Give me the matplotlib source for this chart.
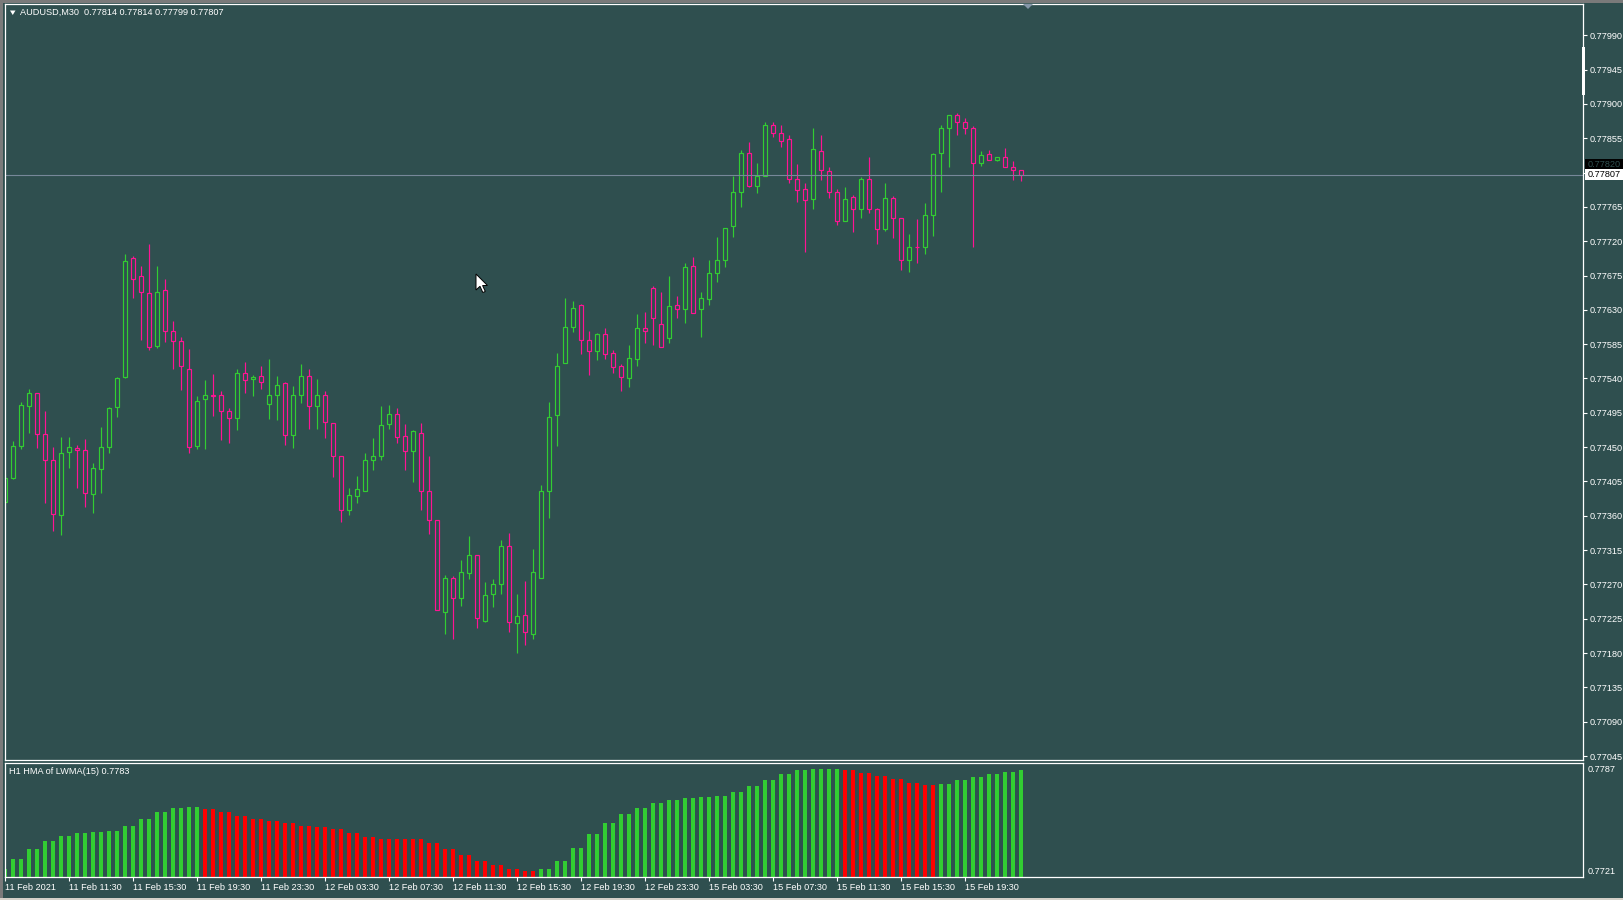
import matplotlib
matplotlib.use("Agg")
import matplotlib.pyplot as plt
import numpy as np
from matplotlib.patches import Rectangle, Polygon
from matplotlib.collections import LineCollection
from matplotlib.transforms import blended_transform_factory

# ---------------- data ----------------
symbol = "AUDUSD,M30"
opens = [0.77378, 0.77410, 0.77452, 0.77504, 0.77521, 0.77467, 0.77433, 0.77361, 0.77443, 0.77449,
         0.77446, 0.77388, 0.77421, 0.77450, 0.77502, 0.77542, 0.77698, 0.77674, 0.77652, 0.77583,
         0.77656, 0.77602, 0.77589, 0.77553, 0.77451, 0.77513, 0.77518, 0.77518, 0.77497, 0.77488,
         0.77547, 0.77539, 0.77543, 0.77506, 0.77519, 0.77534, 0.77466, 0.77519, 0.77543, 0.77504,
         0.77518, 0.77481, 0.77438, 0.77367, 0.77386, 0.77393, 0.77433, 0.77438, 0.77480, 0.77494,
         0.77464, 0.77445, 0.77469, 0.77392, 0.77355, 0.77234, 0.77278, 0.77252, 0.77285, 0.77309,
         0.77222, 0.77257, 0.77270, 0.77321, 0.77219, 0.77230, 0.77205, 0.77279, 0.77393, 0.77492,
         0.77560, 0.77608, 0.77636, 0.77590, 0.77576, 0.77598, 0.77574, 0.77556, 0.77540, 0.77565,
         0.77606, 0.77658, 0.77611, 0.77593, 0.77636, 0.77631, 0.77688, 0.77631, 0.77644, 0.77678,
         0.77696, 0.77740, 0.77784, 0.77835, 0.77792, 0.77806, 0.77872, 0.77862, 0.77854, 0.77802,
         0.77788, 0.77775, 0.77838, 0.77812, 0.77785, 0.77747, 0.77778, 0.77762, 0.77802, 0.77762,
         0.77736, 0.77776, 0.77750, 0.77695, 0.77713, 0.77712, 0.77754, 0.77835, 0.77868, 0.77885,
         0.77876, 0.77868, 0.77822, 0.77834, 0.77826, 0.77830, 0.77817, 0.77814]
highs = [0.77415, 0.77458, 0.77509, 0.77526, 0.77521, 0.77497, 0.77450, 0.77463, 0.77463, 0.77453,
         0.77461, 0.77429, 0.77476, 0.77503, 0.77542, 0.77703, 0.77701, 0.77688, 0.77716, 0.77688,
         0.77670, 0.77615, 0.77595, 0.77579, 0.77517, 0.77538, 0.77546, 0.77523, 0.77501, 0.77553,
         0.77561, 0.77544, 0.77557, 0.77566, 0.77543, 0.77535, 0.77530, 0.77559, 0.77552, 0.77539,
         0.77523, 0.77481, 0.77439, 0.77397, 0.77412, 0.77442, 0.77462, 0.77504, 0.77505, 0.77501,
         0.77480, 0.77473, 0.77482, 0.77438, 0.77355, 0.77283, 0.77281, 0.77302, 0.77334, 0.77309,
         0.77273, 0.77277, 0.77328, 0.77337, 0.77258, 0.77275, 0.77317, 0.77400, 0.77509, 0.77573,
         0.77646, 0.77641, 0.77638, 0.77602, 0.77599, 0.77606, 0.77577, 0.77559, 0.77584, 0.77624,
         0.77627, 0.77661, 0.77654, 0.77675, 0.77648, 0.77691, 0.77699, 0.77653, 0.77696, 0.77726,
         0.77737, 0.77806, 0.77839, 0.77850, 0.77823, 0.77876, 0.77876, 0.77872, 0.77859, 0.77821,
         0.77796, 0.77868, 0.77859, 0.77817, 0.77788, 0.77791, 0.77781, 0.77804, 0.77830, 0.77763,
         0.77796, 0.77779, 0.77751, 0.77729, 0.77749, 0.77770, 0.77836, 0.77872, 0.77886, 0.77888,
         0.77882, 0.77871, 0.77838, 0.77839, 0.77831, 0.77842, 0.77825, 0.77814]
lows = [0.77378, 0.77408, 0.77447, 0.77469, 0.77449, 0.77377, 0.77340, 0.77335, 0.77422, 0.77396,
        0.77371, 0.77364, 0.77390, 0.77442, 0.77490, 0.77540, 0.77645, 0.77590, 0.77578, 0.77580,
        0.77588, 0.77552, 0.77525, 0.77442, 0.77447, 0.77448, 0.77491, 0.77459, 0.77456, 0.77472,
        0.77521, 0.77517, 0.77526, 0.77487, 0.77485, 0.77453, 0.77449, 0.77508, 0.77474, 0.77474,
        0.77462, 0.77411, 0.77352, 0.77361, 0.77377, 0.77393, 0.77420, 0.77433, 0.77474, 0.77456,
        0.77420, 0.77404, 0.77367, 0.77336, 0.77237, 0.77205, 0.77198, 0.77242, 0.77277, 0.77213,
        0.77221, 0.77240, 0.77258, 0.77207, 0.77180, 0.77190, 0.77198, 0.77279, 0.77357, 0.77451,
        0.77560, 0.77601, 0.77572, 0.77545, 0.77564, 0.77566, 0.77547, 0.77524, 0.77529, 0.77556,
        0.77587, 0.77584, 0.77581, 0.77587, 0.77619, 0.77613, 0.77626, 0.77594, 0.77636, 0.77666,
        0.77686, 0.77726, 0.77765, 0.77791, 0.77783, 0.77806, 0.77856, 0.77844, 0.77796, 0.77771,
        0.77706, 0.77762, 0.77800, 0.77776, 0.77741, 0.77746, 0.77732, 0.77750, 0.77757, 0.77716,
        0.77734, 0.77724, 0.77682, 0.77679, 0.77692, 0.77703, 0.77727, 0.77784, 0.77817, 0.77859,
        0.77860, 0.77712, 0.77818, 0.77826, 0.77825, 0.77817, 0.77800, 0.77799]
closes = [0.77409, 0.77451, 0.77505, 0.77521, 0.77467, 0.77433, 0.77362, 0.77442, 0.77450, 0.77446,
          0.77390, 0.77422, 0.77450, 0.77501, 0.77540, 0.77694, 0.77670, 0.77653, 0.77581, 0.77653,
          0.77602, 0.77589, 0.77556, 0.77450, 0.77511, 0.77519, 0.77517, 0.77498, 0.77488, 0.77547,
          0.77538, 0.77542, 0.77535, 0.77519, 0.77532, 0.77466, 0.77518, 0.77543, 0.77504, 0.77518,
          0.77483, 0.77439, 0.77367, 0.77387, 0.77395, 0.77433, 0.77438, 0.77479, 0.77494, 0.77463,
          0.77445, 0.77471, 0.77392, 0.77354, 0.77237, 0.77279, 0.77252, 0.77286, 0.77309, 0.77226,
          0.77256, 0.77271, 0.77321, 0.77221, 0.77228, 0.77207, 0.77286, 0.77393, 0.77490, 0.77557,
          0.77607, 0.77633, 0.77591, 0.77576, 0.77598, 0.77572, 0.77555, 0.77542, 0.77567, 0.77606,
          0.77602, 0.77619, 0.77581, 0.77635, 0.77631, 0.77686, 0.77626, 0.77645, 0.77678, 0.77695,
          0.77737, 0.77785, 0.77835, 0.77793, 0.77806, 0.77872, 0.77862, 0.77851, 0.77802, 0.77787,
          0.77774, 0.77841, 0.77813, 0.77784, 0.77747, 0.77775, 0.77762, 0.77802, 0.77762, 0.77736,
          0.77776, 0.77750, 0.77695, 0.77713, 0.77712, 0.77754, 0.77834, 0.77868, 0.77885, 0.77876,
          0.77868, 0.77823, 0.77833, 0.77826, 0.77830, 0.77817, 0.77814, 0.77807]

ask_price = 0.77820

# H1 HMA of LWMA(15), one value per M30 bar
hma = [0.77255,
       0.77314, 0.77314, 0.77373, 0.77373, 0.77420, 0.77420, 0.77450, 0.77450, 0.77467, 0.77467,
       0.77473, 0.77473, 0.77479, 0.77479, 0.77508, 0.77508, 0.77544, 0.77544, 0.77585, 0.77585,
       0.77608, 0.77608, 0.77614, 0.77614, 0.77603, 0.77603, 0.77585, 0.77585, 0.77561, 0.77561,
       0.77544, 0.77544, 0.77532, 0.77532, 0.77520, 0.77520, 0.77508, 0.77508, 0.77501, 0.77501,
       0.77489, 0.77489, 0.77465, 0.77465, 0.77442, 0.77442, 0.77430, 0.77430, 0.77430, 0.77430,
       0.77430, 0.77430, 0.77406, 0.77406, 0.77373, 0.77373, 0.77336, 0.77336, 0.77300, 0.77300,
       0.77277, 0.77277, 0.77255, 0.77255, 0.77243, 0.77243, 0.77255, 0.77255, 0.77301, 0.77301,
       0.77376, 0.77376, 0.77457, 0.77457, 0.77521, 0.77521, 0.77573, 0.77573, 0.77608, 0.77608,
       0.77637, 0.77637, 0.77654, 0.77654, 0.77666, 0.77666, 0.77671, 0.77671, 0.77677, 0.77677,
       0.77700, 0.77700, 0.77735, 0.77735, 0.77770, 0.77770, 0.77805, 0.77805, 0.77828, 0.77828,
       0.77834, 0.77834, 0.77834, 0.77834, 0.77828, 0.77828, 0.77810, 0.77810, 0.77795, 0.77795,
       0.77776, 0.77776, 0.77753, 0.77753, 0.77741, 0.77741, 0.77747, 0.77747, 0.77770, 0.77770,
       0.77787, 0.77787, 0.77805, 0.77805, 0.77816, 0.77816, 0.77828]
hma_min_label = 0.7721
hma_max_label = 0.7787

price_ticks = [0.77045 + 0.00045 * k for k in range(22)]
time_tick_bars = list(range(0, 121, 8))
time_labels = ["11 Feb 2021", "11 Feb 11:30", "11 Feb 15:30", "11 Feb 19:30", "11 Feb 23:30",
               "12 Feb 03:30", "12 Feb 07:30", "12 Feb 11:30", "12 Feb 15:30", "12 Feb 19:30",
               "12 Feb 23:30", "15 Feb 03:30", "15 Feb 07:30", "15 Feb 11:30", "15 Feb 15:30",
               "15 Feb 19:30"]

# ---------------- style ----------------
BG = "#2F4F4F"
GREEN = "#32CD32"
PINK = "#FF1493"
RED = "#FF0000"
FONT = ["Liberation Sans", "DejaVu Sans"]
FS = 6.6
plt.rcParams["font.family"] = FONT

W, H = 1623, 900
fig = plt.figure(figsize=(W / 100, H / 100), dpi=100, facecolor=BG)


def fx(px):
    return px / W


def fy(py):
    return 1 - py / H


LEFT, RIGHT = 4.5, 1583
ax = fig.add_axes([fx(LEFT), fy(760), fx(RIGHT) - fx(LEFT), fy(4) - fy(760)])
axi = fig.add_axes([fx(LEFT), fy(877), fx(RIGHT) - fx(LEFT), fy(763) - fy(877)], sharex=ax)

for a in (ax, axi):
    a.set_facecolor(BG)
    for s in a.spines.values():
        s.set_color("white")
        s.set_linewidth(0.9)

O = np.array(opens)
Hh = np.array(highs)
L = np.array(lows)
C = np.array(closes)
n = len(O)
x = np.arange(n)

colors = np.where(C > O, GREEN, PINK)
body_hi = np.maximum(O, C)
body_lo = np.minimum(O, C)

segs = []
seg_cols = []
for i in range(n):
    if Hh[i] > body_hi[i]:
        segs.append([(x[i], Hh[i]), (x[i], body_hi[i])])
        seg_cols.append(colors[i])
    if L[i] < body_lo[i]:
        segs.append([(x[i], body_lo[i]), (x[i], L[i])])
        seg_cols.append(colors[i])
ax.add_collection(LineCollection(segs, colors=seg_cols, linewidths=0.85))
heights = np.maximum(body_hi - body_lo, 0.000004)
ax.bar(x, heights, bottom=body_lo, width=0.5, facecolor="none",
       edgecolor=colors, linewidth=0.85)

# current bid line
ax.axhline(C[-1], color="#778899", linewidth=0.8)

ax.set_xlim((LEFT - 5.2) / 8, (RIGHT - 5.2) / 8)
ax.set_ylim(0.770398, 0.780310)

ax.yaxis.tick_right()
ax.set_yticks(price_ticks)
ax.set_yticklabels([f"{p:.5f}" for p in price_ticks])
ax.tick_params(axis="y", colors="white", length=3, width=0.8, pad=1.8, labelsize=FS,
               direction="out")
ax.tick_params(axis="x", bottom=False, labelbottom=False)

# indicator histogram
hv = np.array(hma)
hcols = []
cur = GREEN
for i in range(n):
    if i > 0:
        if hv[i] < hv[i - 1]:
            cur = RED
        elif hv[i] > hv[i - 1]:
            cur = GREEN
    hcols.append(cur)
axi.bar(x, hv - hma_min_label, bottom=hma_min_label, width=0.56, color=hcols, linewidth=0)
axi.set_ylim(hma_min_label, hma_max_label)
axi.set_yticks([])
axi.set_xticks(time_tick_bars)
axi.set_xticklabels(time_labels)
axi.tick_params(axis="x", colors="white", length=3, width=0.8, pad=1.2, labelsize=FS,
                direction="out")
for lbl in axi.get_xticklabels():
    lbl.set_ha("left")

# indicator scale labels
fig.text(fx(1588), fy(770), f"{hma_max_label:.4f}", color="white", fontsize=FS, va="center", ha="left")
fig.text(fx(1588), fy(871), f"{hma_min_label:.4f}", color="white", fontsize=FS, va="center", ha="left")

# header texts
fig.text(fx(20), fy(12.5), f"{symbol}  {O[-1]:.5f} {Hh[-1]:.5f} {L[-1]:.5f} {C[-1]:.5f}",
         color="white", fontsize=FS, va="center", ha="left")
fig.patches.append(Polygon([(fx(10), fy(10.5)), (fx(15.5), fy(10.5)), (fx(12.75), fy(15))],
                           closed=True, transform=fig.transFigure, facecolor="white",
                           edgecolor="none"))
fig.text(fx(9), fy(772), f"H1 HMA of LWMA(15) {hv[-1]:.4f}", color="white", fontsize=FS,
         va="center", ha="left")

# price labels (ask / bid) on the right scale
tr = blended_transform_factory(fig.transFigure, ax.transData)
ppx = (ax.get_ylim()[1] - ax.get_ylim()[0]) / 756.0
for val, fc, tc in ((ask_price, "black", "#2F4F4F"), (C[-1], "white", "black")):
    fig.patches.append(Rectangle((fx(1584.5), val - 5.5 * ppx), fx(1623) - fx(1584.5), 11 * ppx,
                                 transform=tr, facecolor=fc, edgecolor="none", zorder=5))
    fig.text(fx(1588), val, f"{val:.5f}", transform=tr, color=tc, fontsize=FS,
             va="center", ha="left", zorder=6)

# scale marker on axis line
fig.patches.append(Rectangle((fx(1582), fy(95)), fx(3), fy(47) - fy(95), transform=fig.transFigure,
                             facecolor="white", edgecolor="none", zorder=5))
# chart shift marker
fig.patches.append(Polygon([(fx(1023), fy(4)), (fx(1033), fy(4)), (fx(1028), fy(9))], closed=True,
                           transform=fig.transFigure, facecolor="#8496A8", edgecolor="none"))
# window frame strips
fig.patches.append(Rectangle((0, fy(2.5)), 1, fy(0) - fy(2.5), transform=fig.transFigure,
                             facecolor="#7A7A7A", edgecolor="none"))
fig.patches.append(Rectangle((0, 0), fx(2.7), 1, transform=fig.transFigure,
                             facecolor="#7A7A7A", edgecolor="none"))
fig.patches.append(Rectangle((0, 0), 1, fy(897.5), transform=fig.transFigure,
                             facecolor="#D4D0C8", edgecolor="none"))

# mouse cursor
tipx, tipy = 476, 274
cur_pts = [(0, 0), (0, 16), (4, 12.3), (6.8, 18.5), (9.3, 17.5), (6.6, 11.5), (11.5, 11.5)]
fig.patches.append(Polygon([(fx(tipx + a), fy(tipy + b)) for a, b in cur_pts], closed=True,
                           transform=fig.transFigure, facecolor="white", edgecolor="black",
                           linewidth=0.7, zorder=10))

fig.savefig("out.png", dpi=100, facecolor=BG)
